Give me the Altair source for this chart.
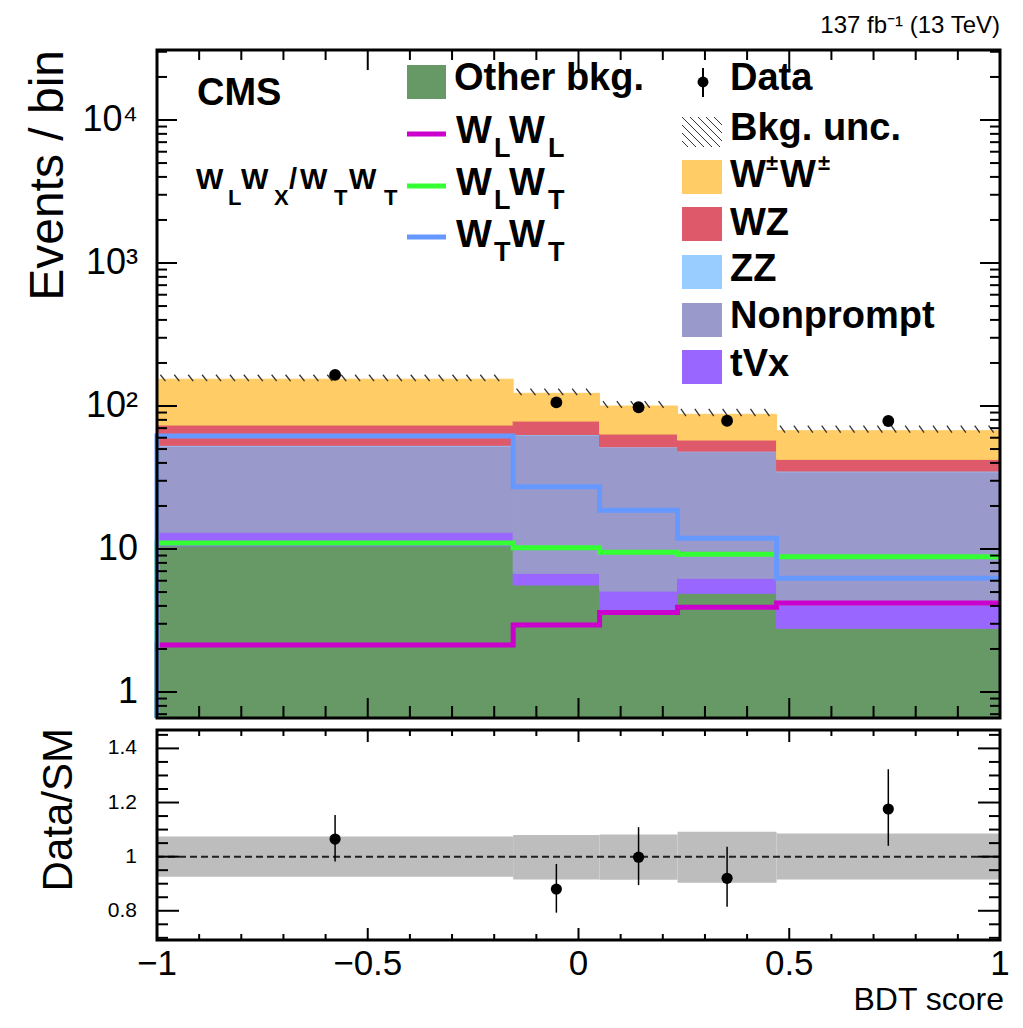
import altair as alt
import numpy as np
import pandas as pd

# ----------------------------------------------------------------- data
bin_edges = [-1.0, -0.155, 0.05, 0.235, 0.47, 1.0]
bkg_names = ["Other bkg.", "tVx", "Nonprompt", "ZZ", "WZ", "W±W±"]
other_bkg = [10.5, 5.6, 3.74, 4.9, 2.79]
tvx = [2.6, 1.16, 1.34, 1.34, 1.27]
nonprompt = [39.4, 55.9, 46.3, 41.7, 30.6]
zz = [0.6, 0.5, 0.4, 0.4, 0.4]
wz = [20.5, 15.3, 11.9, 9.5, 7.3]
wpmwpm = [80.4, 44.2, 36.3, 29.7, 24.8]
sig_wlwl = [2.13, 2.94, 3.6, 3.91, 4.2]
sig_wlwt = [11.0, 10.2, 9.5, 9.2, 8.83]
sig_wtwt = [61.7, 27.3, 18.7, 11.9, 6.24]
data_obs = [165, 106, 98, 78.9, 78.5]
ratio = [1.065, 0.880, 0.998, 0.920, 1.176]
ratio_lo = [0.982, 0.793, 0.895, 0.815, 1.040]
ratio_hi = [1.154, 0.973, 1.109, 1.037, 1.323]
unc_lo = [0.926, 0.916, 0.915, 0.904, 0.916]
unc_hi = [1.074, 1.080, 1.082, 1.092, 1.086]
upper_tick_values = [1, 10, 100, 1000, 10000]
upper_tick_labels = ["1", "10", "10²", "10³", "10⁴"]
ratio_tick_values = [0.8, 1.0, 1.2, 1.4]
ratio_tick_labels = ["0.8", "1", "1.2", "1.4"]
x_tick_values = [-1, -0.5, 0, 0.5, 1]
x_tick_labels = ["−1", "−0.5", "0", "0.5", "1"]

# ----------------------------------------------------------------- styles / geometry
bkg_colors = {"Other bkg.": "#669966", "tVx": "#9966ff", "Nonprompt": "#9999cc",
              "ZZ": "#99ccff", "WZ": "#de5a6a", "W±W±": "#ffcc66"}
sig_colors = {"WLWL": "#cc00cc", "WLWT": "#33ff33", "WTWT": "#6699ff"}
FONT = "Liberation Sans"
LEFT, TOP = 157, 50
W, H = 843, 890
H_UP = 668
LO_TOP, LO_BOT = 680, 890
YMIN, YMAX = 0.658, 30870
RMIN, RMAX = 0.692, 1.468

xs = alt.Scale(domain=[-1, 1], nice=False, zero=False)
ys_up = alt.Scale(type="log", domain=[YMIN, YMAX], range=[H_UP, 0], nice=False, clamp=True)
ys_lo = alt.Scale(domain=[RMIN, RMAX], range=[LO_BOT, LO_TOP], nice=False, zero=False, clamp=True)

nb = len(bin_edges) - 1
centers = [(bin_edges[i] + bin_edges[i + 1]) / 2 for i in range(nb)]
comps = [other_bkg, tvx, nonprompt, zz, wz, wpmwpm]

# stacked background
rows = []
totals = []
for i in range(nb):
    cum = 0.0
    for name, arr in zip(bkg_names, comps):
        y0 = cum if cum > 0 else 0.01
        cum += arr[i]
        rows.append(dict(lo=bin_edges[i], hi=bin_edges[i + 1], y0=y0, y1=cum, c=bkg_colors[name]))
    totals.append(cum)
stack_df = pd.DataFrame(rows)

# hatch of the background uncertainty
hrows = []
for i in range(nb):
    for x in np.arange(bin_edges[i] + 0.008, bin_edges[i + 1] - 0.012, 0.033):
        hrows.append(dict(x1=x, x2=x + 0.012, yt=totals[i] * unc_hi[i], yb=totals[i] * 0.97))
hatch_df = pd.DataFrame(hrows)

# signal step lines
lrows = []
for name, arr in [("WLWL", sig_wlwl), ("WLWT", sig_wlwt), ("WTWT", sig_wtwt)]:
    k = 0
    lrows.append(dict(s=name, i=k, x=-1.0, v=0.1, c=sig_colors[name]))
    for j in range(nb):
        k += 1
        lrows.append(dict(s=name, i=k, x=bin_edges[j], v=arr[j], c=sig_colors[name]))
    lrows.append(dict(s=name, i=k + 1, x=bin_edges[-1], v=arr[-1], c=sig_colors[name]))
line_df = pd.DataFrame(lrows)

data_df = pd.DataFrame(dict(x=centers, v=data_obs))
ratio_df = pd.DataFrame(dict(x=centers, r=ratio, lo=ratio_lo, hi=ratio_hi))
band_df = pd.DataFrame(dict(lo=bin_edges[:-1], hi=bin_edges[1:], ulo=unc_lo, uhi=unc_hi))

# ----------------------------------------------------------------- helpers
def yticks(vals, scale, length, side):
    x0, x1 = (0, length) if side == "left" else (W, W - length)
    return alt.Chart(pd.DataFrame(dict(v=vals))).mark_rule(color="black", strokeWidth=2).encode(
        y=alt.Y("v:Q", scale=scale, axis=None), y2="v:Q",
        x=alt.value(x0), x2=alt.value(x1))


def xticks(vals, y0, length, direction):
    return alt.Chart(pd.DataFrame(dict(v=vals))).mark_rule(color="black", strokeWidth=2).encode(
        x=alt.X("v:Q", scale=xs, axis=None), x2="v:Q",
        y=alt.value(y0), y2=alt.value(y0 + direction * length))


def ylabels(vals, labels, scale, size, pad):
    return alt.Chart(pd.DataFrame(dict(v=vals, t=labels))).mark_text(
        align="right", baseline="middle", fontSize=size, dx=-pad, color="black", font=FONT).encode(
        y=alt.Y("v:Q", scale=scale, axis=None), x=alt.value(0), text="t:N")


def ptext(t, x, y, size, angle=0, align="left", weight="normal"):
    return alt.Chart(pd.DataFrame(dict(t=[t]))).mark_text(
        align=align, baseline="alphabetic", fontSize=size, angle=angle,
        fontWeight=weight, color="black", font=FONT).encode(
        x=alt.value(x), y=alt.value(y), text="t:N")


up_minor = [k * 10.0 ** n for n in range(-1, 5) for k in range(2, 10) if YMIN < k * 10.0 ** n < YMAX]
r_minor = [round(0.7 + 0.05 * k, 2) for k in range(16) if round(0.7 + 0.05 * k, 2) not in ratio_tick_values]
x_major = [-0.5, 0.0, 0.5]
x_minor = [round(-0.9 + 0.1 * k, 1) for k in range(19) if round(-0.9 + 0.1 * k, 1) not in x_major]

# ----------------------------------------------------------------- upper panel
stacks = alt.Chart(stack_df).mark_rect(strokeWidth=1).encode(
    x=alt.X("lo:Q", scale=xs, axis=None), x2="hi:Q",
    y=alt.Y("y0:Q", scale=ys_up, axis=None), y2="y1:Q",
    color=alt.Color("c:N", scale=None), stroke=alt.Stroke("c:N", scale=None))

hatch = alt.Chart(hatch_df).mark_rule(color="#333333", strokeWidth=1.3).encode(
    x=alt.X("x1:Q", scale=xs, axis=None), x2="x2:Q",
    y=alt.Y("yt:Q", scale=ys_up, axis=None), y2="yb:Q")

lines = alt.Chart(line_df).mark_line(interpolate="step-after", strokeWidth=5).encode(
    x=alt.X("x:Q", scale=xs, axis=None),
    y=alt.Y("v:Q", scale=ys_up, axis=None),
    color=alt.Color("c:N", scale=None), detail="s:N", order="i:Q")

points_up = alt.Chart(data_df).mark_circle(color="black", size=140, opacity=1).encode(
    x=alt.X("x:Q", scale=xs, axis=None), y=alt.Y("v:Q", scale=ys_up, axis=None))

frame_up = alt.Chart(pd.DataFrame(dict(a=[0]))).mark_rect(
    fillOpacity=0, stroke="black", strokeWidth=3).encode(
    x=alt.X(datum=-1, type="quantitative", scale=xs, axis=None), x2=alt.X2(datum=1),
    y=alt.Y(datum=YMIN, type="quantitative", scale=ys_up, axis=None), y2=alt.Y2(datum=YMAX))

upper = alt.layer(
    stacks, hatch, lines, points_up,
    yticks(upper_tick_values, ys_up, 20, "left"), yticks(up_minor, ys_up, 10, "left"),
    yticks(upper_tick_values, ys_up, 20, "right"), yticks(up_minor, ys_up, 10, "right"),
    xticks(x_major, 0, 20, 1), xticks(x_minor, 0, 10, 1),
    xticks(x_major, H_UP, 20, -1), xticks(x_minor, H_UP, 12, -1),
    frame_up,
    ylabels(upper_tick_values, upper_tick_labels, ys_up, 36, 19))

# ----------------------------------------------------------------- ratio panel
band = alt.Chart(band_df).mark_rect(color="#bdbdbd").encode(
    x=alt.X("lo:Q", scale=xs, axis=None), x2="hi:Q",
    y=alt.Y("ulo:Q", scale=ys_lo, axis=None), y2="uhi:Q")

unity = alt.Chart(pd.DataFrame(dict(a=[0]))).mark_rule(
    color="#222222", strokeWidth=2, strokeDash=[7, 4]).encode(
    x=alt.X(datum=-1, type="quantitative", scale=xs, axis=None), x2=alt.X2(datum=1),
    y=alt.Y(datum=1.0, type="quantitative", scale=ys_lo, axis=None))

errs = alt.Chart(ratio_df).mark_rule(color="black", strokeWidth=1.5).encode(
    x=alt.X("x:Q", scale=xs, axis=None),
    y=alt.Y("lo:Q", scale=ys_lo, axis=None), y2="hi:Q")

points_lo = alt.Chart(ratio_df).mark_circle(color="black", size=125, opacity=1).encode(
    x=alt.X("x:Q", scale=xs, axis=None), y=alt.Y("r:Q", scale=ys_lo, axis=None))

frame_lo = alt.Chart(pd.DataFrame(dict(a=[0]))).mark_rect(
    fillOpacity=0, stroke="black", strokeWidth=3).encode(
    x=alt.X(datum=-1, type="quantitative", scale=xs, axis=None), x2=alt.X2(datum=1),
    y=alt.Y(datum=RMIN, type="quantitative", scale=ys_lo, axis=None), y2=alt.Y2(datum=RMAX))

xlabels = alt.Chart(pd.DataFrame(dict(v=x_tick_values, t=x_tick_labels))).mark_text(
    align="center", baseline="top", fontSize=35, color="black", font=FONT).encode(
    x=alt.X("v:Q", scale=xs, axis=None), y=alt.value(LO_BOT + 7), text="t:N")

lower = alt.layer(
    band, unity, errs, points_lo,
    yticks(ratio_tick_values, ys_lo, 22, "left"), yticks(r_minor, ys_lo, 11, "left"),
    yticks(ratio_tick_values, ys_lo, 22, "right"), yticks(r_minor, ys_lo, 11, "right"),
    xticks(x_major, LO_TOP, 12, 1), xticks(x_minor, LO_TOP, 6, 1),
    xticks(x_major, LO_BOT, 12, -1), xticks(x_minor, LO_BOT, 6, -1),
    frame_lo, xlabels,
    ylabels(ratio_tick_values, ratio_tick_labels, ys_lo, 21, 20))

# ----------------------------------------------------------------- legend & labels (pixel layout)
def P(ax, ay):
    return ax - LEFT, ay - TOP

bold_txt = []
def bt(t, ax, ay, s):
    x, y = P(ax, ay)
    bold_txt.append(dict(t=t, x=x, y=y, s=s))

bt("CMS", 197, 105, 38)
# W_L W_X / W_T W_T
for t, ax, sub in [("W", 196, 0), ("L", 228, 1), ("W", 241, 0), ("X", 274, 1), ("/", 289, 0),
                   ("W", 300, 0), ("T", 334, 1), ("W", 349, 0), ("T", 384, 1)]:
    bt(t, ax, 189 + 16 * sub, 22 if sub else 29)
# column 1
bt("Other bkg.", 454, 90, 38)
for (a, b), base in zip([("L", "L"), ("L", "T"), ("T", "T")], [143, 195, 247]):
    bt("W", 456, base, 38)
    bt(a, 494, base + 14, 27)
    bt("W", 509, base, 38)
    bt(b, 548, base + 14, 27)
# column 2
bt("Data", 730, 90, 38)
bt("Bkg. unc.", 730, 140, 38)
bt("W", 730, 187, 38)
bt("±", 766, 170, 22)
bt("W", 780, 187, 38)
bt("±", 818, 170, 22)
for t, base in [("WZ", 235), ("ZZ", 281), ("Nonprompt", 328), ("tVx", 376)]:
    bt(t, 730, base, 38)

texts_bold = alt.Chart(pd.DataFrame(bold_txt)).mark_text(
    align="left", baseline="alphabetic", fontWeight="bold", color="black", font=FONT).encode(
    x=alt.X("x:Q", scale=None, axis=None), y=alt.Y("y:Q", scale=None, axis=None),
    text="t:N", size=alt.Size("s:Q", scale=None, legend=None))

lumi = ptext("137 fb⁻¹ (13 TeV)", 1000 - LEFT, 33 - TOP, 24, align="right")
title_y_up = ptext("Events / bin", 63 - LEFT, 0, 48, angle=270, align="right")
title_y_lo = ptext("Data/SM", 72 - LEFT, 728 - TOP, 42, angle=270, align="right")
title_x = ptext("BDT score", 1004 - LEFT, 1010 - TOP, 32, align="right")

# legend boxes
box_rows = []
def box(ax0, ay0, ax1, ay1, c):
    x0, y0 = P(ax0, ay0)
    x1, y1 = P(ax1, ay1)
    box_rows.append(dict(x0=x0, y0=y0, x1=x1, y1=y1, c=c))

box(407, 65, 446, 99, bkg_colors["Other bkg."])
for top, name in zip([160, 207, 255, 303, 350], ["W±W±", "WZ", "ZZ", "Nonprompt", "tVx"]):
    box(682, top, 722, top + 34, bkg_colors[name])
boxes = alt.Chart(pd.DataFrame(box_rows)).mark_rect().encode(
    x=alt.X("x0:Q", scale=None, axis=None), x2="x1:Q",
    y=alt.Y("y0:Q", scale=None, axis=None), y2="y1:Q",
    color=alt.Color("c:N", scale=None))

seg_rows = []
for ay, name in zip([134, 186, 237], ["WLWL", "WLWT", "WTWT"]):
    x0, y0 = P(407, ay)
    x1, _ = P(446, ay)
    seg_rows.append(dict(x0=x0, y0=y0, x1=x1, y1=y0, c=sig_colors[name]))
leg_lines = alt.Chart(pd.DataFrame(seg_rows)).mark_rule(strokeWidth=5).encode(
    x=alt.X("x0:Q", scale=None, axis=None), x2="x1:Q",
    y=alt.Y("y0:Q", scale=None, axis=None), y2="y1:Q",
    color=alt.Color("c:N", scale=None))

# hatch legend box (diagonal strokes clipped to the box)
hb = []
bx0, by0, bx1, by1 = 682, 117, 722, 147
for t in range(-24, 40, 8):
    xa, ya = bx0 + t, by0
    xb, yb = xa + (by1 - by0), by1
    if xa < bx0:
        ya += bx0 - xa
        xa = bx0
    if xb > bx1:
        yb -= xb - bx1
        xb = bx1
    if xb > xa:
        p0 = P(xa, ya)
        p1 = P(xb, yb)
        hb.append(dict(x0=p0[0], y0=p0[1], x1=p1[0], y1=p1[1]))
leg_hatch = alt.Chart(pd.DataFrame(hb)).mark_rule(color="#333333", strokeWidth=1).encode(
    x=alt.X("x0:Q", scale=None, axis=None), x2="x1:Q",
    y=alt.Y("y0:Q", scale=None, axis=None), y2="y1:Q")

dx, dy = P(703, 82)
_, dya = P(703, 68)
_, dyb = P(703, 97)
leg_data_bar = alt.Chart(pd.DataFrame(dict(x=[dx], y0=[dya], y1=[dyb]))).mark_rule(
    color="black", strokeWidth=2).encode(
    x=alt.X("x:Q", scale=None, axis=None),
    y=alt.Y("y0:Q", scale=None, axis=None), y2="y1:Q")
leg_data_pt = alt.Chart(pd.DataFrame(dict(x=[dx], y=[dy]))).mark_circle(
    color="black", size=120, opacity=1).encode(
    x=alt.X("x:Q", scale=None, axis=None), y=alt.Y("y:Q", scale=None, axis=None))

annot = alt.layer(boxes, leg_lines, leg_hatch, leg_data_bar, leg_data_pt, texts_bold,
                  lumi, title_y_up, title_y_lo, title_x)

chart = alt.layer(upper, lower, annot).resolve_scale(y="independent").properties(
    width=W, height=H,
    padding={"left": LEFT, "top": TOP, "right": 1023 - LEFT - W, "bottom": 1028 - TOP - H},
    autosize=alt.AutoSizeParams(type="none"),
    background="white",
).configure(font=FONT).configure_view(stroke=None)

chart.save("out.html", embed_options={"renderer": "svg", "actions": False})
